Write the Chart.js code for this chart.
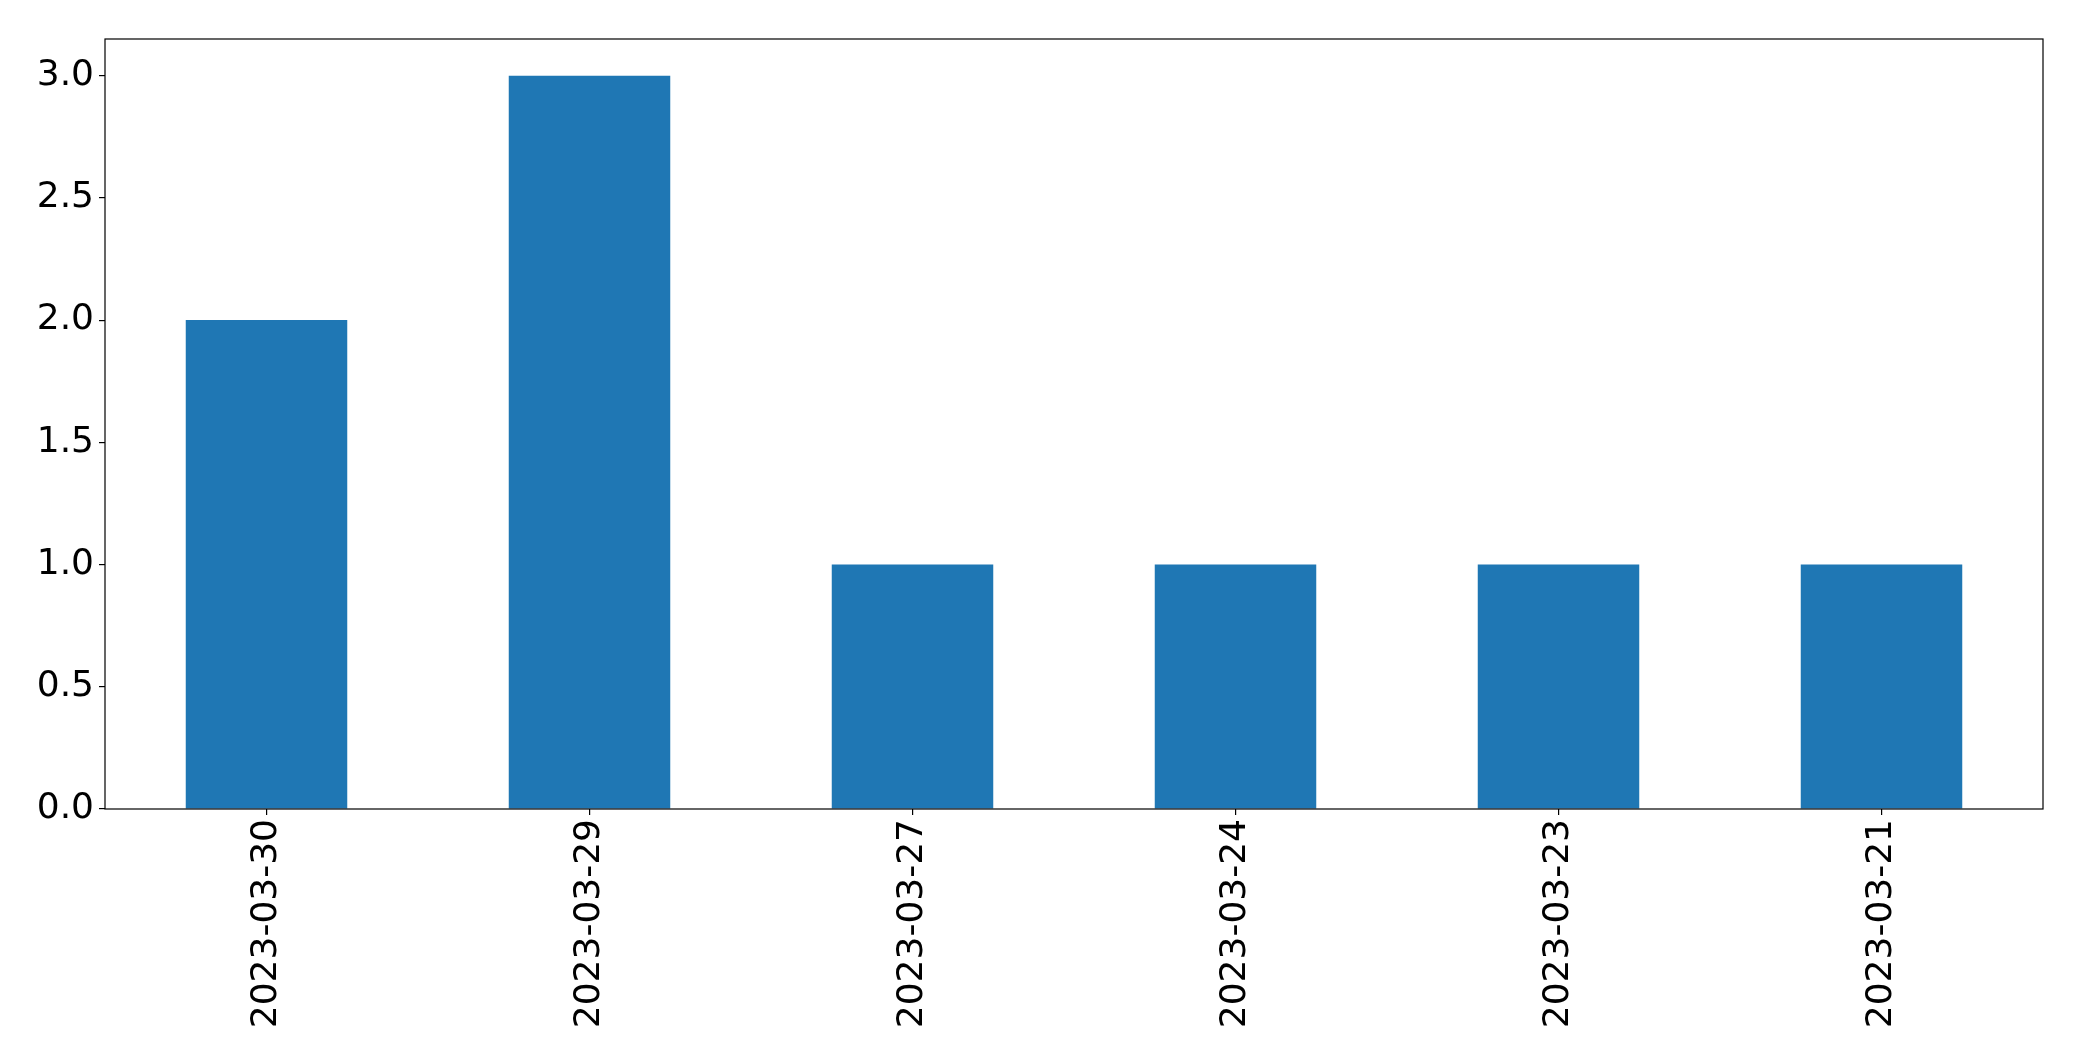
<!DOCTYPE html>
<html>
<head>
<meta charset="utf-8">
<script src="https://cdn.jsdelivr.net/npm/chart.js@4"></script>
<style>
  html, body { margin: 0; padding: 0; background: #fff; }
  #wrap { width: 2082px; height: 1061px; position: relative; }
</style>
</head>
<body>
<div id="wrap"><canvas id="barChart"></canvas></div>
<script>
// ===== DATA =====
const dates = ['2023-03-30', '2023-03-29', '2023-03-27', '2023-03-24', '2023-03-23', '2023-03-21'];
const counts = [2, 3, 1, 1, 1, 1];
const yTicks = [0, 0.5, 1, 1.5, 2, 2.5, 3];

// box around the plot, like matplotlib's spines
const frame = {
  id: 'frame',
  afterDraw(chart) {
    const a = chart.chartArea, ctx = chart.ctx;
    ctx.save();
    ctx.strokeStyle = '#000';
    ctx.lineWidth = 1.2;
    ctx.strokeRect(a.left, a.top, a.right - a.left, a.bottom - a.top);
    ctx.restore();
  }
};

const font = { family: 'DejaVu Sans', size: 36 };

new Chart(document.getElementById('barChart'), {
  type: 'bar',
  data: {
    labels: dates,
    datasets: [{
      data: counts,
      backgroundColor: '#1f77b4',
      borderWidth: 0,
      barPercentage: 0.5,
      categoryPercentage: 1
    }]
  },
  options: {
    responsive: true,
    maintainAspectRatio: false,
    animation: false,
    layout: { padding: { top: 39, right: 39, left: 0, bottom: 0 } },
    plugins: { legend: { display: false }, tooltip: { enabled: false } },
    scales: {
      x: {
        afterFit: s => { s.height = 252; },
        border: { display: false },
        grid: { offset: false, drawOnChartArea: false, drawTicks: true, tickLength: 6, tickColor: '#000', lineWidth: 1.2 },
        ticks: { color: '#000', font, minRotation: 90, maxRotation: 90, autoSkip: false, padding: 4 }
      },
      y: {
        min: 0,
        max: 3.15,
        afterFit: s => { s.width = 105; },
        afterBuildTicks: s => { s.ticks = yTicks.map(v => ({ value: v })); },
        border: { display: false },
        grid: { drawOnChartArea: false, drawTicks: true, tickLength: 6, tickColor: '#000', lineWidth: 1.2 },
        ticks: { color: '#000', font, padding: 5, callback: v => Number(v).toFixed(1) }
      }
    }
  },
  plugins: [frame]
});
</script>
</body>
</html>
